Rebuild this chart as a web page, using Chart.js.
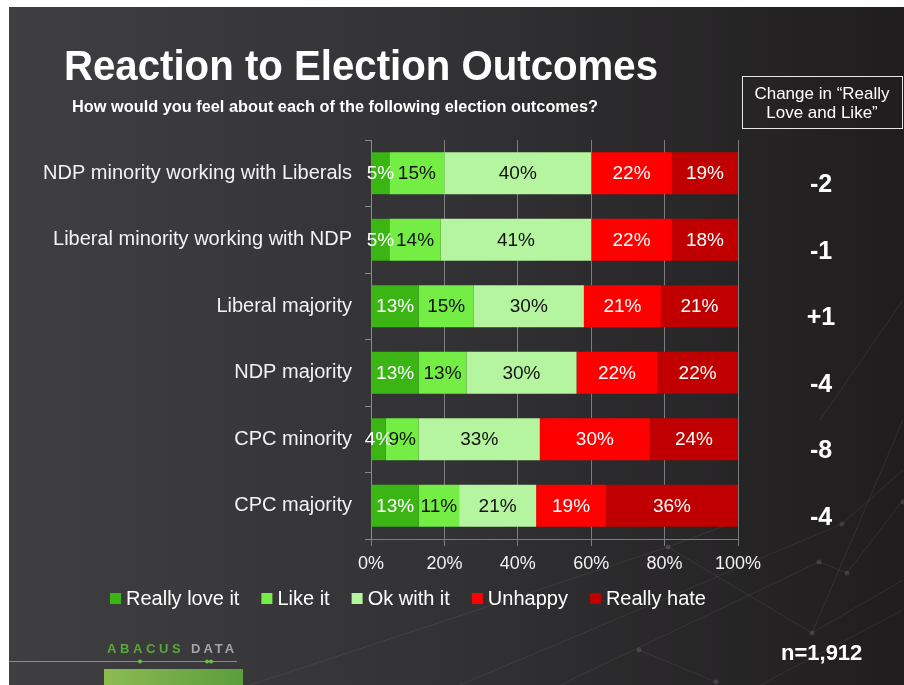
<!DOCTYPE html>
<html>
<head>
<meta charset="utf-8">
<script src="https://cdn.jsdelivr.net/npm/chart.js@4/dist/chart.umd.min.js"></script>
<style>
    html, body { margin: 0; padding: 0; background: #fff; }
    #wrap { width: 904px; height: 685px; position: relative; }
</style>
</head>
<body>
<div id="wrap"><canvas id="outcomeChart" width="904" height="685"></canvas></div>
<script>
// Survey data
const categories = [
    'NDP minority working with Liberals',
    'Liberal minority working with NDP',
    'Liberal majority',
    'NDP majority',
    'CPC minority',
    'CPC majority',
];
const reallyLoveIt = [5, 5, 13, 13, 4, 13];
const likeIt = [15, 14, 15, 13, 9, 11];
const okWithIt = [40, 41, 30, 30, 33, 21];
const unhappy = [22, 22, 21, 22, 30, 19];
const reallyHate = [19, 18, 21, 22, 24, 36];
const changeLoveLike = ['-2', '-1', '+1', '-4', '-8', '-4'];
const xTickValues = [0, 20, 40, 60, 80, 100];

const seriesNames = ['Really love it', 'Like it', 'Ok with it', 'Unhappy', 'Really hate'];
const seriesColors = ['#3bb514', '#74ee45', '#b5f5a0', '#ff0000', '#c00000'];
const labelColors = ['#ffffff', '#111111', '#111111', '#ffffff', '#ffffff'];
const seriesValues = [reallyLoveIt, likeIt, okWithIt, unhappy, reallyHate];

const FONT = '"Liberation Sans", Arial, sans-serif';

/**
 * Slide background, title, change box, logo, decoration
 */
const slidePlugin = {
    id: 'slide',
    beforeDraw(chart) {
        const ctx = chart.ctx;
        const W = chart.width, H = chart.height;
        ctx.save();
        ctx.fillStyle = '#ffffff';
        ctx.fillRect(0, 0, W, H);
        const g = ctx.createLinearGradient(9, 0, W, 0);
        g.addColorStop(0, '#3f3f41');
        g.addColorStop(0.5, '#323133');
        g.addColorStop(1, '#1f1d1e');
        ctx.fillStyle = g;
        ctx.fillRect(9, 7, W - 9, H - 7);

        // faint network lines (decoration)
        ctx.strokeStyle = 'rgba(255, 255, 255, 0.07)';
        ctx.lineWidth = 1;
        const paths = [
            [[460, 685], [842, 524], [903, 470]],
            [[668, 547], [812, 633], [903, 580]],
            [[560, 685], [819, 562], [847, 573], [903, 500]],
            [[250, 685], [668, 547], [740, 520]],
            [[639, 650], [716, 682]],
            [[812, 633], [903, 420]],
            [[760, 685], [903, 610]],
            [[820, 420], [903, 300]],
        ];
        paths.forEach(p => {
            ctx.beginPath();
            p.forEach((pt, i) => (i ? ctx.lineTo(pt[0], pt[1]) : ctx.moveTo(pt[0], pt[1])));
            ctx.stroke();
        });
        ctx.fillStyle = 'rgba(255, 255, 255, 0.12)';
        [[668, 547], [842, 524], [819, 562], [847, 573], [812, 633], [639, 650], [716, 682], [903, 502]].forEach(pt => {
            ctx.beginPath();
            ctx.arc(pt[0], pt[1], 2.5, 0, Math.PI * 2);
            ctx.fill();
        });

        // title + subtitle
        ctx.fillStyle = '#ffffff';
        ctx.textBaseline = 'alphabetic';
        ctx.textAlign = 'left';
        ctx.font = 'bold 42px ' + FONT;
        ctx.fillText('Reaction to Election Outcomes', 64, 80, 594);
        ctx.font = 'bold 17px ' + FONT;
        ctx.fillText('How would you feel about each of the following election outcomes?', 72, 112, 526);

        // change box
        ctx.strokeStyle = '#e6e6e6';
        ctx.lineWidth = 1;
        ctx.strokeRect(742.5, 76.5, 160, 52);
        ctx.font = '17px ' + FONT;
        ctx.textAlign = 'center';
        ctx.fillText('Change in \u201CReally', 822, 99, 140);
        ctx.fillText('Love and Like\u201D', 822, 118, 140);

        // logo
        ctx.textAlign = 'left';
        ctx.font = 'bold 13px ' + FONT;
        ctx.letterSpacing = '3.6px';
        ctx.fillStyle = '#5aa83c';
        ctx.fillText('ABACUS', 107, 653);
        ctx.fillStyle = '#a5a5a5';
        ctx.letterSpacing = '3px';
        ctx.fillText('DATA', 191, 653);
        ctx.letterSpacing = '0px';
        ctx.strokeStyle = '#8a8a8a';
        ctx.beginPath();
        ctx.moveTo(9, 661.5);
        ctx.lineTo(237, 661.5);
        ctx.stroke();
        ctx.fillStyle = '#6cbf45';
        [140, 207, 211].forEach(x => {
            ctx.beginPath();
            ctx.arc(x, 661.5, 2, 0, Math.PI * 2);
            ctx.fill();
        });
        const lg = ctx.createLinearGradient(104, 0, 243, 0);
        lg.addColorStop(0, '#8dbb52');
        lg.addColorStop(1, '#5a9d3c');
        ctx.fillStyle = lg;
        ctx.fillRect(104, 669, 139, 16);
        ctx.restore();
    },
};

/**
 * Value labels in the segments, change column, legend, sample size
 */
const labelPlugin = {
    id: 'labels',
    afterDatasetsDraw(chart) {
        const ctx = chart.ctx;
        const yScale = chart.scales.y;
        const area = chart.chartArea;
        ctx.save();
        ctx.textAlign = 'center';
        ctx.textBaseline = 'middle';
        ctx.font = '19px ' + FONT;
        chart.data.datasets.forEach((ds, di) => {
            const meta = chart.getDatasetMeta(di);
            meta.data.forEach((bar, i) => {
                const right = Math.min(bar.x, area.right);
                const cx = (right + bar.base) / 2;
                ctx.fillStyle = labelColors[di];
                ctx.fillText(ds.data[i] + '%', cx, bar.y + 1);
            });
        });

        // change in "really love and like"
        ctx.fillStyle = '#ffffff';
        ctx.font = 'bold 25px ' + FONT;
        changeLoveLike.forEach((v, i) => {
            ctx.fillText(v, 821, yScale.getPixelForValue(i) + 12);
        });

        // legend
        ctx.font = '20px ' + FONT;
        ctx.textAlign = 'left';
        ctx.textBaseline = 'alphabetic';
        let x = 110;
        seriesNames.forEach((name, i) => {
            ctx.fillStyle = seriesColors[i];
            ctx.fillRect(x, 593, 11, 11);
            ctx.fillStyle = '#ffffff';
            ctx.fillText(name, x + 16, 605);
            x += 16 + ctx.measureText(name).width + 22;
        });

        ctx.font = 'bold 22px ' + FONT;
        ctx.fillText('n=1,912', 781, 660);
        ctx.restore();
    },
};

const ctx = document.getElementById('outcomeChart');
new Chart(ctx, {
    type: 'bar',
    data: {
        labels: categories,
        datasets: seriesNames.map((name, i) => ({
            label: name,
            data: seriesValues[i],
            backgroundColor: seriesColors[i],
            borderWidth: 0,
            barPercentage: 0.63,
            categoryPercentage: 1,
        })),
    },
    options: {
        indexAxis: 'y',
        responsive: false,
        animation: false,
        devicePixelRatio: 1,
        layout: {
            padding: { top: 140, right: 166, left: 0, bottom: 0 },
        },
        scales: {
            x: {
                stacked: true,
                min: 0,
                max: 100,
                afterFit: (s) => { s.height = 146; },
                afterBuildTicks: (s) => { s.ticks = xTickValues.map(v => ({ value: v })); },
                grid: {
                    color: '#7c7c7c',
                    lineWidth: 1,
                    tickLength: 7,
                },
                border: { color: '#7c7c7c' },
                ticks: {
                    color: '#f2f2f2',
                    font: { family: FONT, size: 18 },
                    padding: 7,
                    callback: (v) => v + '%',
                },
            },
            y: {
                stacked: true,
                afterFit: (s) => { s.width = 371; },
                grid: {
                    drawOnChartArea: false,
                    offset: true,
                    color: '#8a8a8a',
                    tickLength: 6,
                },
                border: { color: '#8a8a8a' },
                ticks: {
                    color: '#f2f2f2',
                    font: { family: FONT, size: 20 },
                    padding: 13,
                },
            },
        },
        plugins: {
            legend: { display: false },
            tooltip: { enabled: false },
        },
    },
    plugins: [slidePlugin, labelPlugin],
});
</script>
</body>
</html>
